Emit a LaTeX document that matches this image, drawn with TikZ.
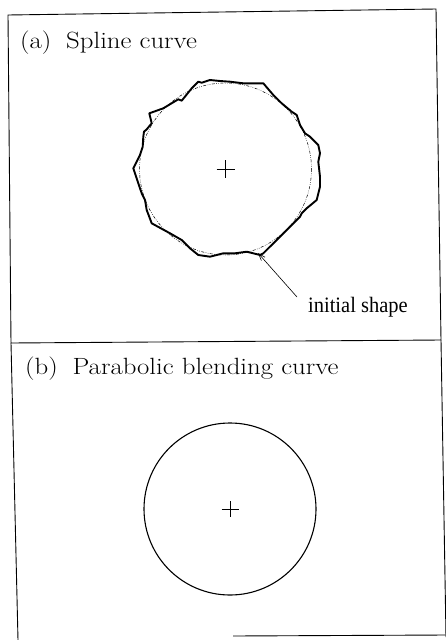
\documentclass[tikz,border=0pt]{standalone}
\usepackage{fontspec}
\newfontfamily\timesfont{Liberation Serif}
\usetikzlibrary{arrows.meta,calc}
\tikzset{
  frame/.style={line width=0.9pt, line join=miter},
  titletext/.style={anchor=base west, inner sep=0pt, font=\fontsize{23.5}{27}\selectfont},
  spline/.style={line width=1.9pt, line join=round, line cap=round},
  initial/.style={line width=0.5pt, dash pattern=on 3pt off 1.5pt on 0.6pt off 1.5pt on 0.6pt off 1.5pt},
  plusmark/.style={line width=0.8pt},
  pointer/.style={line width=0.6pt, -{Straight Barb[length=7pt,width=5pt]}},
  labeltext/.style={anchor=base west, inner sep=0pt, font=\timesfont\fontsize{22}{25}\selectfont}
}
\begin{document}
\begin{tikzpicture}[x=1pt,y=-1pt]
\useasboundingbox (0,0) rectangle (446,640);
% frames
\draw[frame] (8,15) -- (436,9) -- (441,340) -- (11,343) -- cycle;
\draw[frame] (11,343) -- (18,640);
\draw[frame] (441,340) -- (446,637);
\draw[frame] (233,636) -- (446,635);
% titles
\node[titletext] (ta) at (20,48) {\scalebox{1.14}[1]{(a)\hspace{0.55em}Spline curve}};
\node[titletext] (tb) at (25,374) {\scalebox{1.14}[1]{(b)\hspace{0.55em}Parabolic blending curve}};
% (a) initial shape
\coordinate (ca) at (225.5,169);
\draw[initial] (ca) circle[radius=86];
% (a) spline curve
\draw[spline] (133.3,168.3) -- (136.7,161.7) -- (140,155) -- (142.7,146.7) -- (143.3,136.7) -- (144,131.7) -- (146.7,129.3) -- (151.7,123.3) -- (149.3,113.3) -- (163.3,108.3) -- (178.3,99.3) -- (181.7,100.7) -- (191.7,88.3) -- (198.3,81.7) -- (201.7,82.7) -- (210,80) -- (220,81) -- (230,81.7) -- (243.3,83.3) -- (263.3,83.3) -- (273.3,95) -- (281.7,103.3) -- (291.7,111.7) -- (296.7,115) -- (300,125) -- (305,133.3) -- (310,136.7) -- (318.3,145) -- (320,153.3) -- (318.3,161.7) -- (320,176.7) -- (320,186.7) -- (316.7,200) -- (306.7,208.3) -- (301.7,213.3) -- (300,216.7) -- (290,226.7) -- (276.7,240) -- (263.3,253.3) -- (260,255) -- (246.7,251.7) -- (235,253.3) -- (223.3,253.3) -- (210,256.7) -- (198.3,255) -- (190,248.3) -- (181.7,240) -- (170,233.3) -- (151.7,223.3) -- (146.7,210) -- (145,200) -- (141.7,193.3) -- (138.3,183.3) -- cycle;
\draw[plusmark] ($(ca)+(-9,0)$) -- ($(ca)+(9,0)$) ($(ca)+(0,-9)$) -- ($(ca)+(0,9)$);
% label and pointer
\node[labeltext] (lbl) at (308,312) {\scalebox{0.93}[1]{initial shape}};
\coordinate (pstart) at (297,297);
\coordinate (ptip) at (258,253);
\draw[pointer] (pstart) -- (ptip);
% (b)
\coordinate (cb) at (230,509);
\draw[line width=1.1pt] (cb) circle[radius=86];
\draw[plusmark] ($(cb)+(-8.5,0)$) -- ($(cb)+(8.5,0)$) ($(cb)+(0,-8)$) -- ($(cb)+(0,8)$);
\end{tikzpicture}
\end{document}
